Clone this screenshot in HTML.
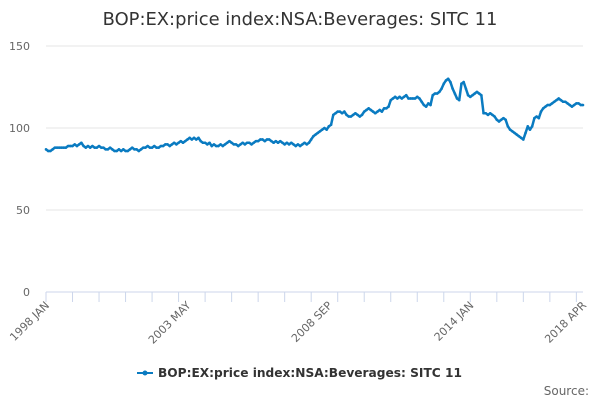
<!DOCTYPE html>
<html><head><meta charset="utf-8"><style>
body{margin:0;background:#fff;font-family:"DejaVu Sans",sans-serif}
</style></head><body>
<svg id="c" width="600" height="400" xmlns="http://www.w3.org/2000/svg" font-family="DejaVu Sans, sans-serif"></svg>
<script>
const yTicks=[0,50,100,150];
const xLabels=["1998 JAN","2003 MAY","2008 SEP","2014 JAN","2018 APR"];
const xLabelIdx=[0,64,128,192,243];
const values=[
87,86,86,87,88,88,88,88,88,88,89,89,
89,90,89,90,91,89,88,89,88,89,88,88,
89,88,88,87,87,88,87,86,86,87,86,87,
86,86,87,88,87,87,86,87,88,88,89,88,
88,89,88,88,89,89,90,90,89,90,91,90,
91,92,91,92,93,94,93,94,93,94,92,91,
91,90,91,89,90,89,89,90,89,90,91,92,
91,90,90,89,90,91,90,91,91,90,91,92,
92,93,93,92,93,93,92,91,92,91,92,91,
90,91,90,91,90,89,90,89,90,91,90,91,
93,95,96,97,98,99,100,99,101,102,108,109,
110,110,109,110,108,107,107,108,109,108,107,108,
110,111,112,111,110,109,110,111,110,112,112,113,
117,118,119,118,119,118,119,120,118,118,118,118,
119,118,116,114,113,115,114,120,121,121,122,124,
127,129,130,128,124,121,118,117,127,128,124,120,
119,120,121,122,121,120,109,109,108,109,108,107,
105,104,105,106,105,101,99,98,97,96,95,94,
93,97,101,99,101,106,107,106,110,112,113,114,
114,115,116,117,118,117,116,116,115,114,113,114,
115,115,114,114];
const svg=document.getElementById('c');
const NS='http://www.w3.org/2000/svg';
const X0=46,X1=583,Y0=292,Y1=46,N=243;
const xs=i=>X0+(X1-X0)*i/N;
const ys=v=>Y0-(Y0-Y1)*v/150;
function mk(t,a,txt){const e=document.createElementNS(NS,t);for(const k in a)e.setAttribute(k,a[k]);if(txt!==undefined)e.textContent=txt;svg.appendChild(e);return e;}
let t=mk('text',{x:300,y:25,'text-anchor':'middle','font-size':17.9,fill:'#333'},'BOP:EX:price index:NSA:Beverages: SITC 11');


yTicks.forEach(v=>{
 const g=mk('line',{x1:X0,x2:X1,y1:ys(v),y2:ys(v),stroke:v===0?'#ccd6eb':'#e6e6e6','stroke-width':1});
 
 
 const l=mk('text',{x:30,y:ys(v)+4,'text-anchor':'end','font-size':11,fill:'#666'},String(v));
 
 
});
for(let y=1998;y<=2018;y++){
 const i=(y-1998)*12;
 const tk=mk('line',{x1:xs(i),x2:xs(i),y1:Y0,y2:Y0+10,stroke:'#ccd6eb'});
 
 
}
xLabels.forEach((s,k)=>{
 const x=xs(xLabelIdx[k]);
 const l=mk('text',{x:x+4,y:Y0+14,'text-anchor':'end','font-size':11,fill:'#666',transform:`rotate(-45 ${x+4} ${Y0+14})`},s);
 
 
});
const d=values.map((v,i)=>(i?'L':'M')+xs(i).toFixed(2)+' '+ys(v).toFixed(2)).join('');
const p=mk('path',{d:d,fill:'none',stroke:'#0a7bc1','stroke-width':2.5,'stroke-linejoin':'round'});


values.forEach((v,i)=>{const c=mk('circle',{cx:xs(i),cy:ys(v),r:1.3,fill:'#0a7bc1'});
 
 });
const lg=mk('line',{x1:137,x2:153,y1:373,y2:373,stroke:'#0a7bc1','stroke-width':2});


const lc=mk('circle',{cx:145,cy:373,r:2.5,fill:'#0a7bc1'});


const lt=mk('text',{x:158,y:377,'font-size':12.2,'font-weight':'bold',fill:'#333'},'BOP:EX:price index:NSA:Beverages: SITC 11');


const src=mk('text',{x:589,y:395,'text-anchor':'end','font-size':12,fill:'#666'},'Source:');


</script>
</body></html>
